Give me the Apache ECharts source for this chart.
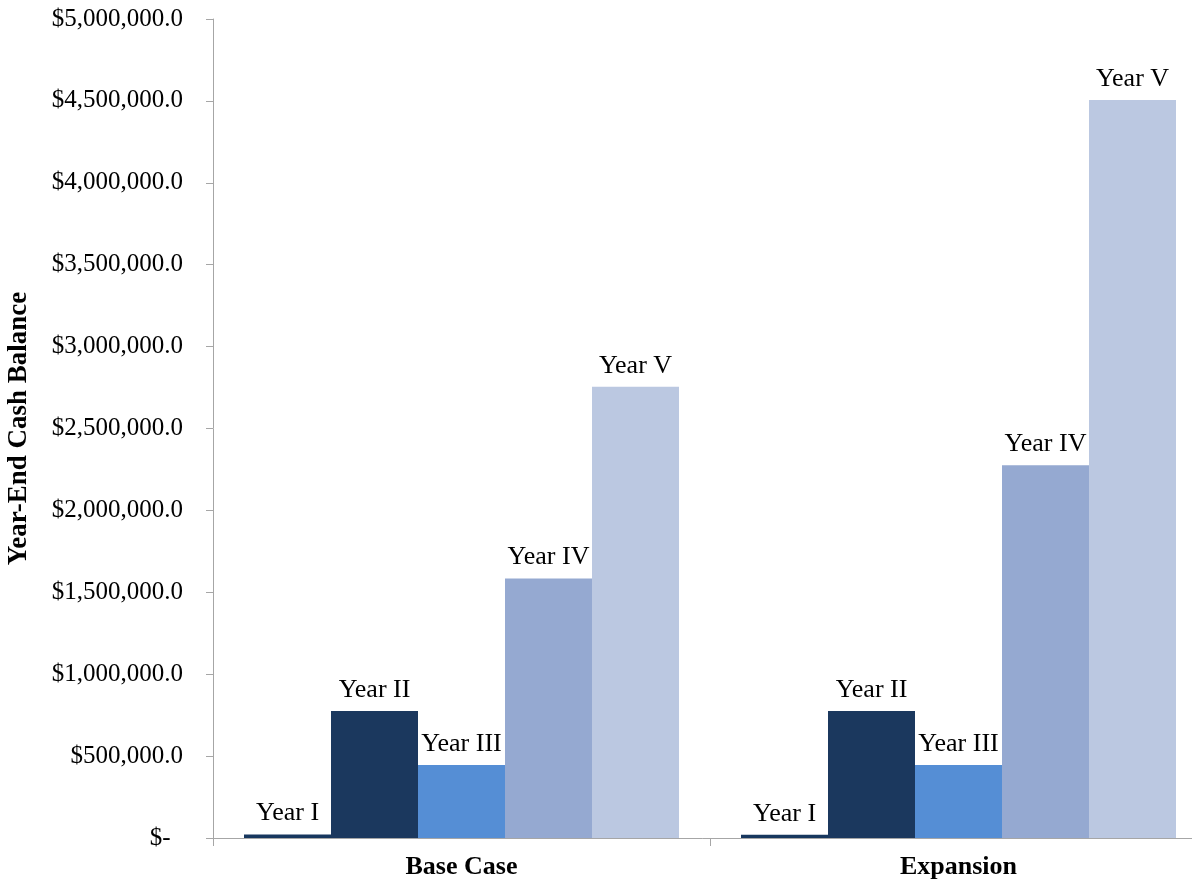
<!DOCTYPE html>
<html>
<head>
<meta charset="utf-8">
<script src="https://cdn.jsdelivr.net/npm/echarts@6/dist/echarts.min.js"></script>
<style>
  html, body { margin: 0; padding: 0; background: #fff; }
  #chart { width: 1192px; height: 882px; }
</style>
</head>
<body>
<div id="chart"></div>
<script>
// categories and values
var categories = ["Base Case", "Expansion"];
var yearNames = ["Year I", "Year II", "Year III", "Year IV", "Year V"];
var yearI = [22000, 20000];
var yearII = [775000, 775000];
var yearIII = [445000, 445000];
var yearIV = [1585000, 2275000];
var yearV = [2755000, 4505000];
var colors = ["#17375E", "#1B385E", "#558ED5", "#95A9D1", "#BBC8E1"];

var font = "Liberation Serif";
var allValues = [yearI, yearII, yearIII, yearIV, yearV];

var myChart = echarts.init(document.getElementById("chart"));

var series = [];
for (var i = 0; i < yearNames.length; i++) {
    series.push({
        name: yearNames[i],
        type: "bar",
        data: allValues[i],
        barWidth: 87,
        barGap: "0%",
        itemStyle: { color: colors[i] },
        label: {
            show: true,
            position: "top",
            distance: 8,
            formatter: "{a}",
            fontFamily: font,
            fontSize: 26,
            color: "#000"
        }
    });
}

var option = {
    animation: false,
    grid: {
        left: 213, right: -15, top: 19, bottom: 44,
        containLabel: false,
        outerBoundsMode: "none"
    },
    xAxis: {
        type: "category",
        data: categories,
        axisLine: { lineStyle: { color: "#A6A6A6", width: 1 } },
        axisTick: { show: true, length: 8, lineStyle: { color: "#A6A6A6" } },
        axisLabel: {
            fontFamily: font,
            fontSize: 26,
            fontWeight: "bold",
            color: "#000",
            margin: 16
        }
    },
    yAxis: {
        type: "value",
        min: 0,
        max: 5000000,
        interval: 500000,
        name: "Year-End Cash Balance",
        nameLocation: "middle",
        nameGap: 180,
        nameTextStyle: {
            fontFamily: font,
            fontSize: 27,
            fontWeight: "bold",
            color: "#000"
        },
        axisLine: { show: true, lineStyle: { color: "#A6A6A6", width: 1 } },
        axisTick: { show: true, length: 7, lineStyle: { color: "#A6A6A6" } },
        splitLine: { show: false },
        axisLabel: {
            fontFamily: font,
            fontSize: 25,
            color: "#000",
            margin: 30,
            formatter: function (v) {
                if (v === 0) return "$-  ";
                return "$" + v.toLocaleString("en-US") + ".0";
            }
        }
    },
    series: series
};

myChart.setOption(option);
</script>
</body>
</html>
